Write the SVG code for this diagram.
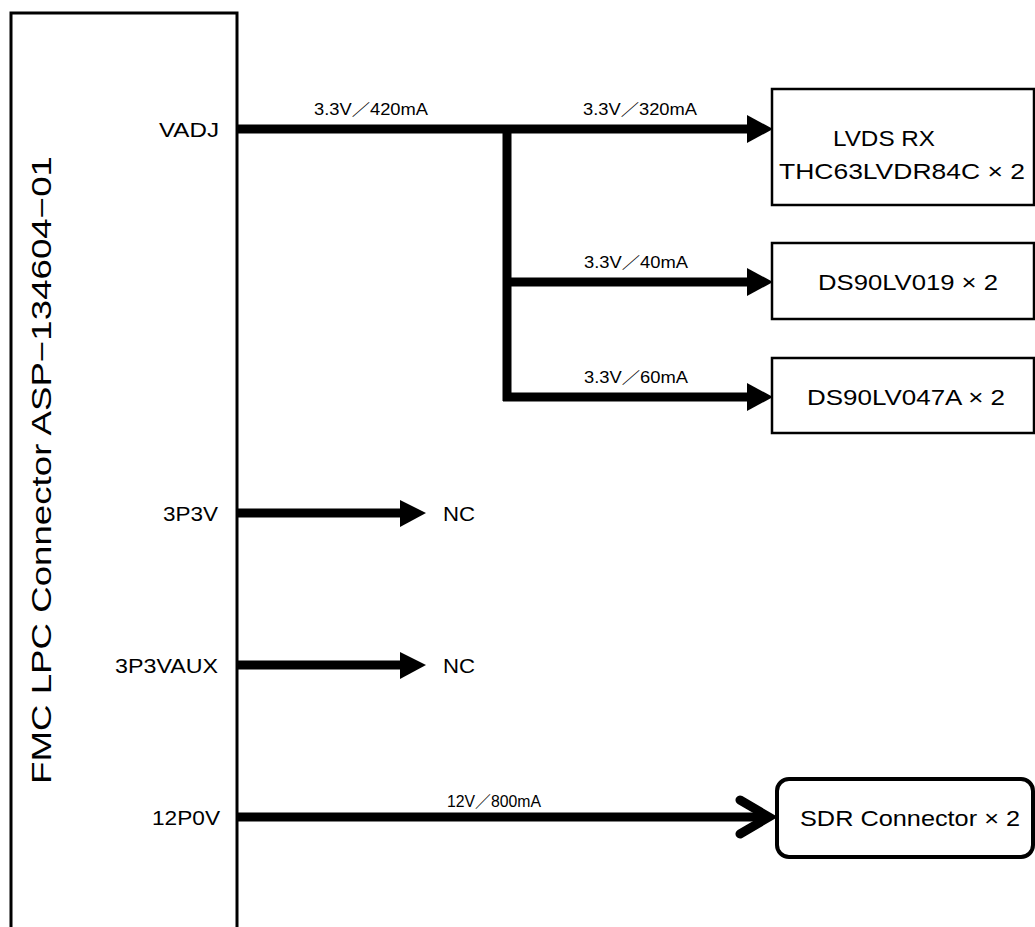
<svg xmlns="http://www.w3.org/2000/svg" width="1035" height="927" viewBox="0 0 1035 927">
<style>
text{font-family:"Liberation Sans","Noto Sans CJK JP",Arial,sans-serif;fill:#000}
.pin{font-size:21px;text-anchor:end}
.cur{font-size:16px;text-anchor:middle}
.box{fill:#fff;stroke:#000;stroke-width:2.5}
.btxt{font-size:22px;text-anchor:middle}
.wire{stroke:#000;stroke-width:9;fill:none}
.head{fill:#000;stroke:none}
</style>
<rect width="1035" height="927" fill="#fff"/>
<g id="fmc">
<rect x="11" y="13" width="226" height="940" fill="none" stroke="#000" stroke-width="3"/>
<text transform="translate(51,470) rotate(-90)" font-size="27" text-anchor="middle" textLength="628" lengthAdjust="spacingAndGlyphs">FMC LPC Connector  ASP−134604−01</text>
<text class="pin" x="219" y="137" textLength="60" lengthAdjust="spacingAndGlyphs">VADJ</text>
<text class="pin" x="218" y="521" textLength="55" lengthAdjust="spacingAndGlyphs">3P3V</text>
<text class="pin" x="218" y="673" textLength="103" lengthAdjust="spacingAndGlyphs">3P3VAUX</text>
<text class="pin" x="220" y="825" textLength="68" lengthAdjust="spacingAndGlyphs">12P0V</text>
</g>
<g id="connectors">
<path class="wire" d="M237 129H750"/>
<path class="wire" d="M507 125V401"/>
<path class="wire" d="M503 282H750"/>
<path class="wire" d="M503 397H750"/>
<polygon class="head" points="747,115 773,129 747,143"/>
<polygon class="head" points="747,268 773,282 747,296"/>
<polygon class="head" points="747,383 773,397 747,411"/>
<path class="wire" d="M237 513H402"/>
<polygon class="head" points="400,500 426,513 400,527"/>
<path class="wire" d="M237 665H402"/>
<polygon class="head" points="400,652 426,665 400,679"/>
<path class="wire" d="M237 817H765"/>
<polyline points="740,800 769,817 740,834" fill="none" stroke="#000" stroke-width="9" stroke-linecap="round" stroke-linejoin="miter"/>
<text class="cur" x="371" y="115" textLength="114" lengthAdjust="spacingAndGlyphs">3.3V／420mA</text>
<text class="cur" x="640" y="115" textLength="114" lengthAdjust="spacingAndGlyphs">3.3V／320mA</text>
<text class="cur" x="636" y="268" textLength="104" lengthAdjust="spacingAndGlyphs">3.3V／40mA</text>
<text class="cur" x="636" y="383" textLength="104" lengthAdjust="spacingAndGlyphs">3.3V／60mA</text>
<text class="cur" x="494" y="807" textLength="94" lengthAdjust="spacingAndGlyphs">12V／800mA</text>
<text x="443" y="521" font-size="20" textLength="32" lengthAdjust="spacingAndGlyphs">NC</text>
<text x="443" y="673" font-size="20" textLength="32" lengthAdjust="spacingAndGlyphs">NC</text>
</g>
<g id="lvds">
<rect class="box" x="772" y="89" width="262" height="116"/>
<text class="btxt" x="884" y="146" textLength="102" lengthAdjust="spacingAndGlyphs">LVDS RX</text>
<text class="btxt" x="902" y="179" textLength="246" lengthAdjust="spacingAndGlyphs">THC63LVDR84C × 2</text>
</g>
<g id="ds019">
<rect class="box" x="772" y="243" width="262" height="76"/>
<text class="btxt" x="908" y="290" textLength="180" lengthAdjust="spacingAndGlyphs">DS90LV019 × 2</text>
</g>
<g id="ds047">
<rect class="box" x="772" y="358" width="262" height="75"/>
<text class="btxt" x="906" y="405" textLength="198" lengthAdjust="spacingAndGlyphs">DS90LV047A × 2</text>
</g>
<g id="sdr">
<rect x="777" y="779" width="256" height="78" rx="12" fill="#fff" stroke="#000" stroke-width="4"/>
<text class="btxt" x="910" y="826" textLength="220" lengthAdjust="spacingAndGlyphs">SDR Connector × 2</text>
</g>
</svg>
